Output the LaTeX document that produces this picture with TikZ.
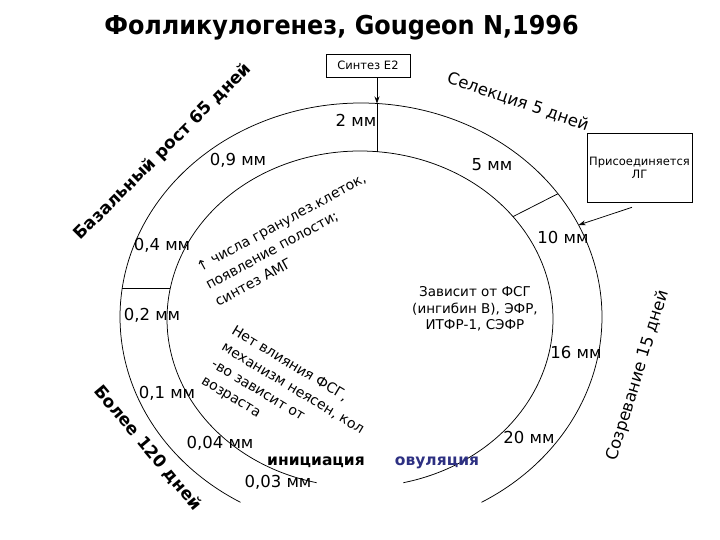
\documentclass[tikz,border=0pt]{standalone}
\usepackage{fontspec}
\setmainfont{DejaVu Sans}
\usetikzlibrary{arrows.meta}
\definecolor{ovblue}{RGB}{45,48,130}
\begin{document}
\begin{tikzpicture}[x=1pt,y=-1pt,
  ring/.style={line width=0.75pt},
  mm/.style={font=\fontsize{16.5}{18}\selectfont, inner sep=0pt},
  arctxt/.style={font=\fontsize{16.5}{18}\selectfont, inner sep=0pt},
  arcbold/.style={font=\fontsize{17}{19}\selectfont\bfseries, inner sep=0pt},
  note/.style={font=\fontsize{14}{19.5}\selectfont, inner sep=0pt, align=left},
  boxed/.style={draw, line width=0.6pt, inner sep=2pt, align=center},
  arr/.style={line width=0.75pt, -{Stealth[length=7pt,width=5pt]}}
]
\useasboundingbox (0,0) rectangle (720,540);
\node[font=\fontsize{26}{30}\selectfont\bfseries, inner sep=0pt, xscale=0.92] (title) at (341.5,28) {Фолликулогенез, Gougeon N,1996};

\draw[ring] plot[domain=120:420,samples=240] ({361+241*cos(\x)},{317+214*sin(\x)});
\draw[ring] plot[domain=103:437,samples=240] ({360+193*cos(\x)},{319+168*sin(\x)});

\coordinate (ot) at (377,103.5);
\coordinate (it) at (377,151.7);
\coordinate (ro) at (558,193.7);
\coordinate (ri) at (513,216.6);
\coordinate (lo) at (122.2,288);
\coordinate (li) at (170.3,288);
\coordinate (lgend) at (578.6,225);
\draw[ring] (ot) -- (it);
\draw[ring] (ro) -- (ri);
\draw[ring] (lo) -- (li);

\node[boxed, minimum width=84pt, minimum height=23pt, font=\fontsize{11.5}{13}\selectfont] (e2) at (368,65.5) {Синтез E2};
\draw[arr] (e2.south -| ot) -- (ot);
\node[boxed, minimum width=105pt, minimum height=69pt, font=\fontsize{11.5}{13}\selectfont] (lg) at (639.5,167.5) {Присоединяется\\ЛГ};
\draw[arr] ([xshift=-7.5pt,yshift=-5pt]lg.south) -- (lgend);

\node[mm] (m2) at (356,120) {2 мм};
\node[mm] (m09) at (238,160) {0,9 мм};
\node[mm] (m5) at (492,165) {5 мм};
\node[mm] (m10) at (563,237) {10 мм};
\node[mm] (m04) at (162,245) {0,4 мм};
\node[mm] (m02) at (152,315) {0,2 мм};
\node[mm] (m01) at (167,393) {0,1 мм};
\node[mm] (m004) at (220,443) {0,04 мм};
\node[mm] (m003) at (278,482) {0,03 мм};
\node[mm] (m16) at (576,352) {16 мм};
\node[mm] (m20) at (529,437) {20 мм};
\node[font=\fontsize{15.5}{17}\selectfont\bfseries, inner sep=0pt] (init) at (316,462) {инициация};
\node[font=\fontsize{15.5}{17}\selectfont\bfseries, inner sep=0pt, text=ovblue] (ovul) at (437,463) {овуляция};
\node[font=\fontsize{13.5}{16.5}\selectfont, align=center, inner sep=0pt] (fsg) at (475,309) {Зависит от ФСГ\\(ингибин В), ЭФР,\\ИТФР-1, СЭФР};
\node[note, rotate=28.6, anchor=west] (gran) at (206.5,285.5) {↑ числа гранулез.клеток,\\появление полости;\\синтез АМГ};
\node[note, rotate=-31, anchor=west] (net) at (217.5,355) {Нет влияния ФСГ,\\механизм неясен, кол\\-во зависит от\\возраста};

\node[arcbold, rotate=45] (bas) at (163,152) {Базальный рост 65 дней};
\node[arcbold, rotate=-50] (bol) at (148,448) {Более 120 дней};
\node[arctxt, rotate=73] (soz) at (638,376) {Созревание 15 дней};
\node[arctxt, rotate=-19] (sel) at (518,102) {Селекция 5 дней};
\end{tikzpicture}
\end{document}
